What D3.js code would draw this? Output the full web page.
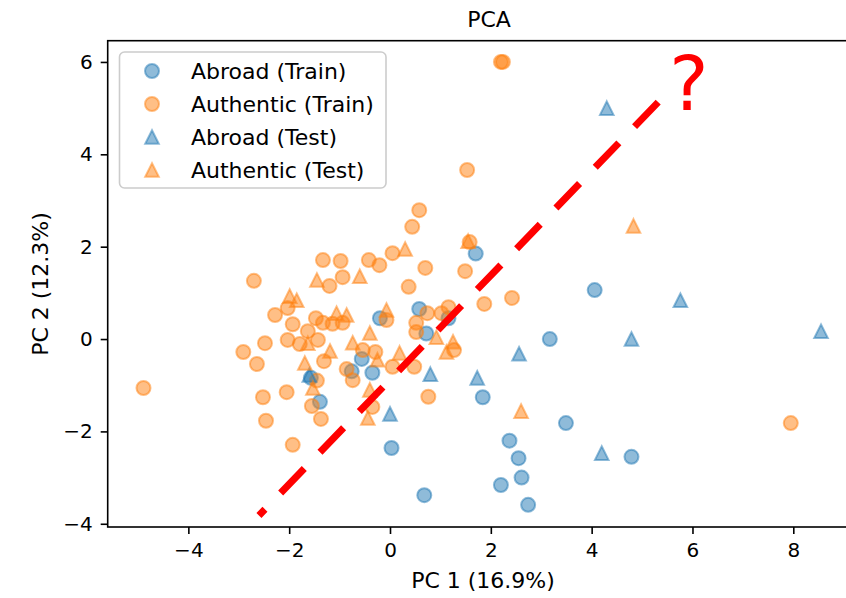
<!DOCTYPE html>
<html>
<head>
<meta charset="utf-8">
<script src="https://cdn.jsdelivr.net/npm/d3@7"></script>
<style>
	body { margin: 0; background: #fff; }
	svg { display: block; font-family: "DejaVu Sans", sans-serif; }
</style>
</head>
<body>
<svg id="chart" width="846" height="598"></svg>
<script>
// PC1 / PC2 scores
var abroadTrain = [
	[1.70, 1.85], [4.06, 1.06], [3.17, 0.00], [3.49, -1.82], [1.84, -1.26],
	[2.37, -2.20], [2.55, -2.58], [2.61, -3.00], [2.20, -3.16], [2.74, -3.59],
	[0.68, -3.38], [0.03, -2.36], [4.79, -2.55], [0.58, 0.65], [-0.20, 0.45],
	[0.72, 0.12], [-0.56, -0.43], [-0.35, -0.73], [-0.76, -0.70], [1.16, 0.45],
	[-1.57, -0.84], [-1.39, -1.36]
];
var authenticTrain = [
	[-4.89, -1.06], [2.20, 6.00], [2.24, 6.00], [1.53, 3.66], [7.95, -1.82],
	[0.58, 2.79], [0.44, 2.43], [0.05, 1.86], [-0.42, 1.71], [-0.21, 1.60],
	[0.70, 1.54], [1.49, 1.47], [0.37, 1.13], [1.87, 0.76], [2.42, 0.89],
	[-1.33, 1.71], [-0.98, 1.69], [-0.94, 1.34], [-1.20, 1.15], [-2.70, 1.26],
	[-2.03, 0.67], [-2.28, 0.52], [-1.93, 0.32], [-1.47, 0.45], [-1.33, 0.35],
	[-0.94, 0.35], [-1.14, 0.33], [-1.63, 0.17], [-2.48, -0.09], [-2.03, -0.02],
	[-1.79, -0.11], [-1.43, -0.02], [-2.91, -0.28], [-2.64, -0.54], [-1.31, -0.48],
	[-0.86, -0.65], [-0.74, -0.89], [-2.05, -1.15], [-2.52, -1.26], [-1.55, -1.45],
	[-2.46, -1.77], [-1.37, -1.73], [-1.93, -2.29], [-1.45, -0.90], [0.74, 0.56],
	[1.02, 0.56], [1.16, 0.69], [0.52, 0.35], [0.52, 0.15], [-0.07, 0.41],
	[-0.54, -0.24], [-0.29, -0.28], [0.05, -0.60], [0.48, -0.60], [-0.35, -1.47],
	[0.76, -1.25], [1.27, -0.24], [1.58, 2.10]
];
var abroadTest = [
	[4.30, 5.00], [5.76, 0.84], [8.55, 0.17], [4.79, 0.00], [4.20, -2.47],
	[2.56, -0.32], [1.73, -0.84], [0.80, -0.76], [0.00, -1.62], [-1.60, -0.78]
];
var authenticTest = [
	[4.83, 2.45], [1.55, 2.12], [2.60, -1.56], [0.30, 1.95], [-0.60, 1.36],
	[-1.45, 1.28], [-1.99, 0.93], [-1.85, 0.84], [-1.06, 0.56], [-0.86, 0.52],
	[-1.63, -0.09], [-1.19, -0.26], [-1.69, -0.52], [-1.53, -1.06], [-0.74, -0.08],
	[-0.07, 0.63], [-0.40, 0.13], [0.19, -0.30], [-0.25, -0.45], [0.92, 0.04],
	[1.25, -0.06], [1.12, -0.28], [-0.40, -1.10], [-0.44, -1.71]
];

var seriesNames = ["Abroad (Train)", "Authentic (Train)", "Abroad (Test)", "Authentic (Test)"];
var xTicks = [-4, -2, 0, 2, 4, 6, 8];
var yTicks = [-4, -2, 0, 2, 4, 6];

// hand-drawn red guess line and question mark, in data units
var guideLine = [[5.32, 5.13], [-2.60, -3.82]];
var guideMark = [5.93, 4.95];

(function () {
	var blue = "#1f77b4", orange = "#ff7f0e";

	var series = [
		{ name: seriesNames[0], data: abroadTrain, colour: blue, shape: "circle" },
		{ name: seriesNames[1], data: authenticTrain, colour: orange, shape: "circle" },
		{ name: seriesNames[2], data: abroadTest, colour: blue, shape: "triangle" },
		{ name: seriesNames[3], data: authenticTest, colour: orange, shape: "triangle" }
	];

	var left = 107.7, right = 854.8, top = 40.7, bottom = 527;

	var x = d3.scaleLinear()
		.domain([-5.60, 9.22])
		.range([left, right]);

	var y = d3.scaleLinear()
		.domain([-4.07, 6.46])
		.range([bottom, top]);

	var svg = d3.select("#chart");

	svg.append("rect")
		.attr("width", 846)
		.attr("height", 598)
		.attr("fill", "#fff");

	var triangle = r => `M0,${-r}L${r},${r}L${-r},${r}Z`;

	var drawMarker = (g, shape, colour) => {
		var m = shape === "circle"
			? g.append("circle").attr("r", 7)
			: g.append("path").attr("d", triangle(6.8));
		m.attr("fill", colour)
			.attr("fill-opacity", 0.5)
			.attr("stroke", colour)
			.attr("stroke-opacity", 0.5)
			.attr("stroke-width", 2);
	};

	// points
	series.forEach(s => {
		svg.append("g")
			.selectAll("g")
			.data(s.data)
			.join("g")
			.attr("transform", d => `translate(${x(d[0])},${y(d[1])})`)
			.each(function () { drawMarker(d3.select(this), s.shape, s.colour); });
	});

	// axes
	var xAxis = d3.axisBottom(x)
		.tickValues(xTicks)
		.tickFormat(d3.format("d"))
		.tickSize(7)
		.tickSizeOuter(0)
		.tickPadding(9);

	var yAxis = d3.axisLeft(y)
		.tickValues(yTicks)
		.tickFormat(d3.format("d"))
		.tickSize(7)
		.tickSizeOuter(0)
		.tickPadding(8);

	svg.append("g")
		.attr("transform", `translate(0,${bottom})`)
		.call(xAxis)
		.call(g => g.select(".domain").remove())
		.call(g => g.selectAll("line").attr("stroke-width", 1.6))
		.call(g => g.selectAll("text").attr("font-size", 20).attr("font-family", "DejaVu Sans").attr("fill", "#000"));

	svg.append("g")
		.attr("transform", `translate(${left},0)`)
		.call(yAxis)
		.call(g => g.select(".domain").remove())
		.call(g => g.selectAll("line").attr("stroke-width", 1.6))
		.call(g => g.selectAll("text").attr("font-size", 20).attr("font-family", "DejaVu Sans").attr("fill", "#000"));

	svg.append("rect")
		.attr("x", left)
		.attr("y", top)
		.attr("width", right - left)
		.attr("height", bottom - top)
		.attr("fill", "none")
		.attr("stroke", "#000")
		.attr("stroke-width", 1.6);

	// titles
	svg.append("text")
		.attr("x", 489)
		.attr("y", 27)
		.attr("text-anchor", "middle")
		.attr("font-size", 22)
		.text("PCA");

	svg.append("text")
		.attr("x", 483)
		.attr("y", 588)
		.attr("text-anchor", "middle")
		.attr("font-size", 22)
		.text("PC 1 (16.9%)");

	svg.append("text")
		.attr("transform", "translate(48,284)rotate(-90)")
		.attr("text-anchor", "middle")
		.attr("font-size", 22)
		.text("PC 2 (12.3%)");

	// legend
	var legend = svg.append("g");

	legend.append("rect")
		.attr("x", 119.5)
		.attr("y", 52)
		.attr("width", 266.5)
		.attr("height", 136)
		.attr("rx", 5)
		.attr("fill", "#fff")
		.attr("fill-opacity", 0.8)
		.attr("stroke", "#ccc")
		.attr("stroke-width", 1.6);

	legend.selectAll("g")
		.data(series)
		.join("g")
		.attr("transform", (d, i) => `translate(152,${71 + i * 33})`)
		.each(function (d) { drawMarker(d3.select(this), d.shape, d.colour); })
		.append("text")
		.attr("x", 39)
		.attr("y", 7.5)
		.attr("font-size", 22)
		.text(d => d.name);

	// red guess line on top
	svg.append("line")
		.attr("x1", x(guideLine[0][0]))
		.attr("y1", y(guideLine[0][1]))
		.attr("x2", x(guideLine[1][0]))
		.attr("y2", y(guideLine[1][1]))
		.attr("stroke", "#ff0000")
		.attr("stroke-width", 7)
		.attr("stroke-dasharray", "34,22.6");

	svg.append("text")
		.attr("x", x(guideMark[0]))
		.attr("y", y(guideMark[1]))
		.attr("text-anchor", "middle")
		.attr("font-size", 74)
		.attr("fill", "#ff0000")
		.text("?");
})();
</script>
</body>
</html>
